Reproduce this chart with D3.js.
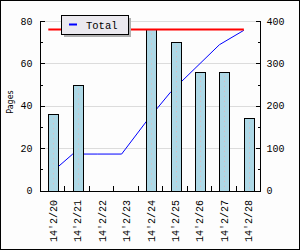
<!DOCTYPE html>
<html><head><meta charset="utf-8">
<script src="https://cdn.jsdelivr.net/npm/d3@7"></script>
<style>
html,body{margin:0;padding:0;background:#fff;}
svg{display:block;}
text{font-family:"Liberation Mono","DejaVu Sans Mono",monospace;fill:#000;}
</style></head><body>
<svg id="c" width="300" height="250"></svg>
<script>
const categories = ["14'2/20","14'2/21","14'2/22","14'2/23","14'2/24","14'2/25","14'2/26","14'2/27","14'2/28"];
const pages = [36, 50, 0, 0, 76, 70, 56, 56, 34];
const total = [36, 86, 86, 86, 162, 232, 288, 344, 378];
const target = [380, 380, 380, 380, 380, 380, 380, 380, 380];
const leftTicks = [0, 20, 40, 60, 80];
const rightTicks = [0, 100, 200, 300, 400];
const seriesName = "Total";
const yTitle = "Pages";

const svg = d3.select("#c");
svg.append("rect").attr("x",0.5).attr("y",0.5).attr("width",299).attr("height",249)
  .attr("fill","#fdfdfd").attr("stroke","#000");

const L=40, R=260, T=21, B=190.5;
const x = d3.scaleBand().domain(categories).range([L,R]).padding(0);
const yL = d3.scaleLinear().domain([0,80]).range([B,T]);
const yR = d3.scaleLinear().domain([0,400]).range([B,T]);
const off = 8.3, bw = 10;

// gridlines
svg.append("g").selectAll("line").data(leftTicks.filter(d=>d>0)).join("line")
  .attr("x1",L).attr("x2",R).attr("y1",d=>Math.round(yL(d))+0.5).attr("y2",d=>Math.round(yL(d))+0.5)
  .attr("stroke","#dcdcdc");

// cumulative line (behind bars)
const line = d3.line().x((d,i)=>x(categories[i])+off).y(d=>yR(d));
svg.append("path").datum(total).attr("d",line).attr("fill","none").attr("stroke","#0000ff").attr("stroke-width",1);

// bars
const bars = svg.append("g");
bars.selectAll("rect").data(pages).join("rect")
  .attr("x",(d,i)=>Math.round(x(categories[i])+off)+0.5)
  .attr("y",d=>Math.round(yL(d))+0.5)
  .attr("width",bw).attr("height",d=>Math.max(0,Math.round(B)-Math.round(yL(d))))
  .attr("fill","#add8e6").attr("stroke","#000").attr("stroke-width",1)
  .attr("display",d=>d>0?null:"none");
bars.selectAll("line").data(pages).join("line")
  .attr("x1",(d,i)=>Math.round(x(categories[i])+off)+5.5).attr("x2",(d,i)=>Math.round(x(categories[i])+off)+5.5)
  .attr("y1",d=>yL(d)+4).attr("y2",B-2)
  .attr("stroke","#e6b4b8").attr("stroke-dasharray","1,4")
  .attr("display",d=>d>0?null:"none");

// target line
svg.append("path").datum(target).attr("d",line).attr("fill","none").attr("stroke","#ff0000").attr("stroke-width",2);

// axes
const ga = svg.append("g").attr("stroke","#000").attr("shape-rendering","crispEdges");
ga.append("line").attr("x1",L+0.5).attr("x2",L+0.5).attr("y1",T).attr("y2",B+0.5);
ga.append("line").attr("x1",R+0.5).attr("x2",R+0.5).attr("y1",T).attr("y2",B+0.5);
ga.append("line").attr("x1",L).attr("x2",R+1).attr("y1",Math.round(B)+0.5).attr("y2",Math.round(B)+0.5);
const minorL = d3.range(10,80,20);
ga.selectAll(".tl").data(leftTicks).join("line").attr("x1",L).attr("x2",L+5)
  .attr("y1",d=>Math.round(yL(d))+0.5).attr("y2",d=>Math.round(yL(d))+0.5);
ga.selectAll(".ml").data(minorL).join("line").attr("class","ml").attr("x1",L).attr("x2",L+3)
  .attr("y1",d=>Math.round(yL(d))+0.5).attr("y2",d=>Math.round(yL(d))+0.5);
ga.selectAll(".tr").data(rightTicks).join("line").attr("class","tr").attr("x1",R-4).attr("x2",R+1)
  .attr("y1",d=>Math.round(yR(d))+0.5).attr("y2",d=>Math.round(yR(d))+0.5);
ga.selectAll(".mr").data(d3.range(50,400,100)).join("line").attr("class","mr").attr("x1",R-2).attr("x2",R+1)
  .attr("y1",d=>Math.round(yR(d))+0.5).attr("y2",d=>Math.round(yR(d))+0.5);
ga.selectAll(".tx").data(categories.slice(1)).join("line").attr("class","tx")
  .attr("x1",d=>Math.round(x(d))+0.5).attr("x2",d=>Math.round(x(d))+0.5).attr("y1",B-5).attr("y2",B);

svg.append("g").selectAll("text").data(leftTicks).join("text")
  .attr("x",32.5).attr("y",d=>yL(d)+3.5).attr("text-anchor","end").attr("font-size","10px").text(d=>d);
svg.append("g").selectAll("text").data(rightTicks).join("text")
  .attr("x",266.5).attr("y",d=>yR(d)+3.5).attr("text-anchor","start").attr("font-size","10px").text(d=>d);
svg.append("g").selectAll("text").data(categories).join("text")
  .attr("transform",d=>`translate(${x(d)+off+8.5},200) rotate(-90)`)
  .attr("text-anchor","end").attr("font-size","10px").text(d=>d);
svg.append("text").attr("transform","translate(12.5,102) rotate(-90)").attr("text-anchor","middle")
  .attr("font-size","8px").style("font-family","'DejaVu Sans',sans-serif").text(yTitle);

// legend
const lg = svg.append("g");
lg.append("rect").attr("x",64).attr("y",18).attr("width",67).attr("height",19).attr("fill","#b0b0b0");
lg.append("rect").attr("x",61.5).attr("y",15.5).attr("width",67).attr("height",19).attr("fill","#ebe9ef").attr("stroke","#000");
lg.append("line").attr("x1",69).attr("x2",77).attr("y1",24.5).attr("y2",24.5).attr("stroke","#0000ff").attr("stroke-width",2);
lg.append("text").attr("x",86).attr("y",28.5).attr("font-size","10.5px").text(seriesName);
</script></body></html>
